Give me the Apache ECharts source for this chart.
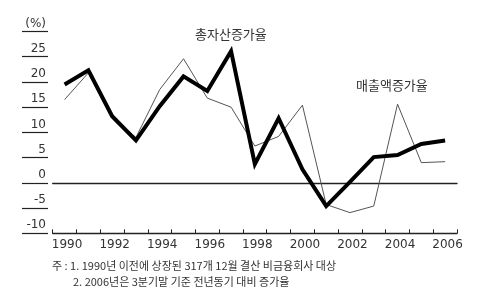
<!DOCTYPE html>
<html><head><meta charset="utf-8">
<script src="https://cdn.jsdelivr.net/npm/echarts@6/dist/echarts.min.js"></script>
<style>html,body{margin:0;padding:0;background:#fff}#c{width:480px;height:303px}</style>
</head><body><div id="c"></div>
<script>
const years = ['1990','1991','1992','1993','1994','1995','1996','1997','1998','1999','2000','2001','2002','2003','2004','2005','2006'];
const totalAssetGrowth = [19.5, 22.3, 13.2, 8.4, 15.2, 21.1, 18.2, 26.1, 3.7, 12.8, 2.7, -4.6, 0.2, 5.1, 5.5, 7.7, 8.4];
const salesGrowth = [16.5, 21.8, 13.0, 9.0, 18.5, 24.6, 16.8, 15.0, 7.3, 9.2, 15.4, -4.3, -5.9, -4.6, 15.6, 4.0, 4.2];
const yTicks = {min: -10, max: 30, step: 5, unitLabel: '(%)'};
const labelAssets = '총자산증가율';
const labelSales = '매출액증가율';
const note1 = '주 : 1. 1990년 이전에 상장된 317개 12월 결산 비금융회사 대상';
const note2 = '2. 2006년은 3분기말 기준 전년동기 대비 증가율';

const chart = echarts.init(document.getElementById('c'), null, {renderer: 'canvas'});
const txt = '#333';
chart.setOption({
  animation: false,
  backgroundColor: '#fff',
  grid: {left: 52.7, right: 23, top: 31.5, bottom: 69.7},
  xAxis: [{
    type: 'category', data: years, boundaryGap: true,
    axisLine: {show: true, onZero: false, lineStyle: {color: '#222', width: 1.3}},
    axisTick: {show: true, inside: true, length: 4, interval: 0, lineStyle: {color: '#222', width: 1}},
    axisLabel: {interval: 1, margin: 6, color: txt, fontSize: 12, fontFamily: 'DejaVu Sans', padding: [0, 0, 0, 5]},
    splitLine: {show: false}
  }, {
    type: 'category', data: years, boundaryGap: true, position: 'bottom',
    axisLine: {show: true, onZero: true, lineStyle: {color: '#222', width: 1.3}},
    axisTick: {show: false}, axisLabel: {show: false}, splitLine: {show: false}
  }],
  yAxis: {
    type: 'value', min: yTicks.min, max: yTicks.max, interval: yTicks.step, offset: 4.7,
    axisLine: {show: false},
    axisTick: {show: true, inside: false, length: 26, lineStyle: {color: '#222', width: 1.2}},
    axisLabel: {margin: 2, color: txt, fontSize: 12, fontFamily: 'DejaVu Sans', verticalAlign: 'bottom', padding: [0, 0, 2, 0],
      formatter: v => v === yTicks.max ? yTicks.unitLabel : String(v)},
    splitLine: {show: false}
  },
  series: [
    {
      name: labelSales, type: 'line', data: salesGrowth, symbol: 'none',
      lineStyle: {color: '#555', width: 1}, z: 2
    },
    {
      name: labelAssets, type: 'line', data: totalAssetGrowth, symbol: 'none',
      lineStyle: {color: '#000', width: 4, join: 'miter'}, z: 3
    }
  ],
  graphic: [
    {type: 'text', left: 195, top: 28, style: {text: labelAssets, font: '13px "Noto Sans CJK KR"', fill: '#333'}},
    {type: 'text', left: 356, top: 79, style: {text: labelSales, font: '13px "Noto Sans CJK KR"', fill: '#333'}},
    {type: 'text', left: 52, top: 260, style: {text: note1, font: '11px "Noto Sans CJK KR"', fill: '#333'}},
    {type: 'text', left: 73, top: 276, style: {text: note2, font: '11px "Noto Sans CJK KR"', fill: '#333'}}
  ]
});
</script></body></html>
